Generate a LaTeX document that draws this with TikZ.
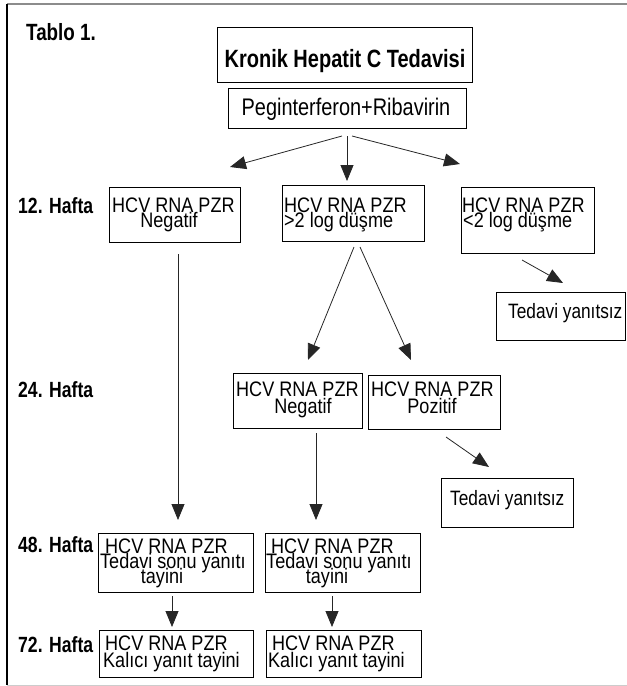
\documentclass[tikz,border=0pt]{standalone}
\usepackage{fontspec}
\setmainfont{Liberation Sans}
\newfontfamily\rf{Liberation Sans}[FakeStretch=0.86]
\newfontfamily\nf{Liberation Sans}[FakeStretch=0.83]
\newfontfamily\hfont{Liberation Sans}[FakeStretch=0.8]
\usetikzlibrary{arrows.meta}
\tikzset{
  box/.style={draw=black, line width=0.9pt, inner sep=0pt, rectangle},
  txt/.style={inner sep=0pt, anchor=base west, font=\rf\fontsize{21}{15}\selectfont},
  ctxt/.style={txt, anchor=base},
  ttxt/.style={inner sep=0pt, anchor=base west, font=\nf\fontsize{20.8}{15}\selectfont},
  lbl/.style={inner sep=0pt, anchor=base west, font=\hfont\bfseries\fontsize{22}{22}\selectfont},
  arr/.style={draw=black!85, line width=0.8pt, -{Triangle[length=16pt,width=13pt]}}
}
\newcommand\bx[5]{\node[box,minimum width={#4pt-#2pt},minimum height={#5pt-#3pt}] (#1) at ({(#2+#4)/2},{(#3+#5)/2}) {};}
\begin{document}
\begin{tikzpicture}[x=1pt,y=-1pt]
\useasboundingbox (0,0) rectangle (627,686);
% frame
\draw[draw=black!45, line width=1.4pt] (7,4) -- (627,4);
\draw[draw=black, line width=1.2pt] (7,4) -- (7,685);
\draw[draw=black!20, line width=1pt] (7,685) -- (627,685);
% labels
\node[lbl, font=\hfont\bfseries\fontsize{23.5}{23.5}\selectfont] (tablo) at (26,40) {Tablo 1.};
\node[lbl] (h12) at (18,213) {12. Hafta};
\node[lbl] (h24) at (18,397) {24. Hafta};
\node[lbl] (h48) at (18,552) {48. Hafta};
\node[lbl] (h72) at (18,652) {72. Hafta};
% title
\bx{title}{217}{27}{472}{82}
\node[inner sep=0pt, anchor=base, font=\hfont\bfseries\fontsize{25}{25}\selectfont] (titletxt) at (345,67) {Kronik Hepatit C Tedavisi};
\bx{peg}{228}{88}{466}{128}
\node[inner sep=0pt, anchor=base, font=\nf\fontsize{24}{24}\selectfont] (pegtxt) at (346,115) {Peginterferon+Ribavirin};
% row 12
\bx{A}{109}{187}{240}{242}
\node[txt] (A1) at (112,212) {HCV RNA PZR};
\node[ctxt] (A2) at (169,227) {Negatif};
\bx{B}{282}{185}{424}{241}
\node[txt] (B1) at (284,212) {HCV RNA PZR};
\node[txt] (B2) at (284,227) {>2 log düşme};
\bx{C}{461}{187}{594}{253}
\node[txt] (C1) at (462,212) {HCV RNA PZR};
\node[txt] (C2) at (463,227) {<2 log düşme};
\bx{T1}{496}{292}{625}{340}
\node[ttxt] (T1t) at (508,318) {Tedavi yanıtsız};
% row 24
\bx{D}{233}{373}{362}{428}
\node[txt] (D1) at (236,396) {HCV RNA PZR};
\node[ctxt] (D2) at (303,413) {Negatif};
\bx{E}{368}{375}{500}{429}
\node[txt] (E1) at (371,396) {HCV RNA PZR};
\node[ctxt] (E2) at (432,413) {Pozitif};
\bx{T2}{441}{478}{573}{527}
\node[ttxt] (T2t) at (450,505) {Tedavi yanıtsız};
% row 48
\bx{F}{98}{533}{253}{592}
\node[txt] (F1) at (105,553) {HCV RNA PZR};
\node[txt] (F2) at (100,568) {Tedavi sonu yanıtı};
\node[ctxt] (F3) at (162,583) {tayini};
\bx{G}{265}{533}{420}{592}
\node[txt] (G1) at (271,553) {HCV RNA PZR};
\node[txt] (G2) at (266,568) {Tedavi sonu yanıtı};
\node[ctxt] (G3) at (327,583) {tayini};
% row 72
\bx{H}{99}{630}{253}{677}
\node[txt] (H1) at (105,650) {HCV RNA PZR};
\node[txt] (H2) at (103,667) {Kalıcı yanıt tayini};
\bx{I}{266}{630}{421}{677}
\node[txt] (I1) at (272,650) {HCV RNA PZR};
\node[txt] (I2) at (268,667) {Kalıcı yanıt tayini};
% connector end points
\coordinate (pl) at (342,136); \coordinate (pm) at (347,136); \coordinate (pr) at (352,136);
\coordinate (al) at (230,167); \coordinate (am) at (347,181); \coordinate (ar) at (460,164);
\coordinate (cs) at (522,260); \coordinate (ce) at (563,283);
\coordinate (bl) at (354,247); \coordinate (ble) at (308,360);
\coordinate (br) at (360,247); \coordinate (bre) at (411,360);
\coordinate (as) at (178,254); \coordinate (ae) at (178,520);
\coordinate (ds) at (316,433); \coordinate (de) at (316,520);
\coordinate (es) at (446,437); \coordinate (ee) at (489,467);
\coordinate (fs) at (172,596); \coordinate (fe) at (172,627);
\coordinate (gs) at (332,596); \coordinate (ge) at (332,627);
\draw[arr] (pl) -- (al);
\draw[arr] (pm) -- (am);
\draw[arr] (pr) -- (ar);
\draw[arr] (cs) -- (ce);
\draw[arr] (bl) -- (ble);
\draw[arr] (br) -- (bre);
\draw[arr] (as) -- (ae);
\draw[arr] (ds) -- (de);
\draw[arr] (es) -- (ee);
\draw[arr] (fs) -- (fe);
\draw[arr] (gs) -- (ge);
\end{tikzpicture}
\end{document}
